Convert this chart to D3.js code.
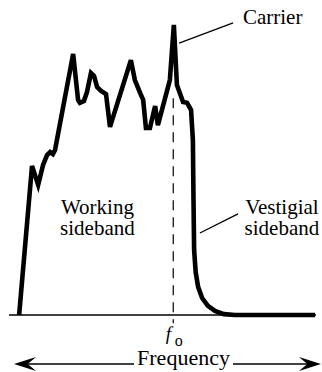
<!DOCTYPE html>
<html>
<head>
<meta charset="utf-8">
<script src="https://cdn.jsdelivr.net/npm/d3@7"></script>
</head>
<body style="margin:0">
<svg id="chart" width="322" height="372"></svg>
<script>
// Spectrum of a vestigial-sideband signal (relative units)
const frequency = [3.3, 7.5, 9.5, 11.1, 12.4, 13.4, 14.3, 15.0, 20.9, 22.5, 23.1, 24.4, 25.4, 26.7, 27.7,
  28.7, 30.0, 31.6, 32.9, 39.7, 41.0, 42.7, 43.7, 44.6, 45.9, 47.6, 48.5, 52.4, 53.7, 54.7, 56.7, 58.0,
  59.3, 59.9, 60.1, 60.3, 60.8, 61.6, 62.9, 64.8, 67.1, 70.0, 73.6, 99.7];
const amplitude = [0, 50.9, 44.4, 51.2, 54.6, 55.6, 54.9, 56.3, 89.1, 73.4, 72.4, 73.0, 76.1, 82.6, 81.6,
  77.8, 76.5, 75.4, 64.2, 87.0, 80.2, 75.8, 73.4, 63.8, 63.8, 71.3, 64.8, 80.2, 99.0, 78.5, 72.7, 72.4,
  70.0, 59.7, 39.2, 22.2, 14.7, 9.6, 5.8, 3.1, 1.4, 0.3, 0, 0];

const carrierFreq = 53.5;          // f_o
const sidebandLabels = [
  { lines: ["Working", "sideband"], f: 28.8, a: 34.5 },
  { lines: ["Vestigial", "sideband"], f: 88.9, a: 34.5 }
];

const svg = d3.select("#chart");
const x = d3.scaleLinear().domain([0, 100]).range([9, 316]);
const y = d3.scaleLinear().domain([0, 100]).range([315, 22]);

const label = (tx, ty, s, size) => svg.append("text")
  .attr("x", tx).attr("y", ty)
  .style("font-family", '"Liberation Serif"')
  .attr("font-size", size)
  .text(s);

// frequency baseline
svg.append("line")
  .attr("x1", x.range()[0]).attr("x2", x.range()[1])
  .attr("y1", y(0)).attr("y2", y(0))
  .attr("stroke", "#000").attr("stroke-width", 1.3);

// carrier marker
svg.append("line")
  .attr("x1", x(carrierFreq)).attr("x2", x(carrierFreq))
  .attr("y1", y(74)).attr("y2", y(-2.8))
  .attr("stroke", "#000").attr("stroke-width", 1.2)
  .attr("stroke-dasharray", "10,7");

// spectrum envelope
const pts = frequency.map((f, i) => [f, amplitude[i]]);
svg.append("path")
  .datum(pts)
  .attr("d", d3.line().x(d => x(d[0])).y(d => y(d[1])))
  .attr("fill", "none")
  .attr("stroke", "#000")
  .attr("stroke-width", 4.6)
  .attr("stroke-linejoin", "miter");

// sideband labels
sidebandLabels.forEach(l => {
  l.lines.forEach((s, i) => label(x(l.f), y(l.a) + i * 21, s, 21).attr("text-anchor", "middle"));
});

// Carrier leader + label
svg.append("line")
  .attr("x1", x(55.4)).attr("y1", y(92.8))
  .attr("x2", x(73)).attr("y2", y(99.7))
  .attr("stroke", "#000").attr("stroke-width", 1.3);
label(x(76.2), 24, "Carrier", 21);

// Vestigial leader
svg.append("line")
  .attr("x1", x(62.2)).attr("y1", y(28))
  .attr("x2", x(74.6)).attr("y2", y(34.5))
  .attr("stroke", "#000").attr("stroke-width", 1.3);

// f_o label
label(x(carrierFreq) - 7.5, 340, "f", 19).style("font-style", "italic");
label(x(carrierFreq) + 1.5, 346, "o", 16);

// Frequency double arrow
const arrowY = 364;
const left = 14, right = 321, headLen = 22, headHalf = 7;
svg.append("line").attr("x1", left + 10).attr("x2", right - 10).attr("y1", arrowY).attr("y2", arrowY)
  .attr("stroke", "#000").attr("stroke-width", 1.3);
svg.append("rect").attr("x", 134).attr("y", arrowY - 8).attr("width", 99).attr("height", 16).attr("fill", "#fff");
label(183.5, arrowY + 1, "Frequency", 22).attr("text-anchor", "middle");
const head = (tip, dir) => {
  const p = d3.path();
  p.moveTo(tip, arrowY);
  p.lineTo(tip + dir * headLen, arrowY - headHalf);
  p.lineTo(tip + dir * headLen * 0.62, arrowY);
  p.lineTo(tip + dir * headLen, arrowY + headHalf);
  p.closePath();
  svg.append("path").attr("d", p.toString()).attr("fill", "#000");
};
head(left, 1);
head(right, -1);
</script>
</body>
</html>
